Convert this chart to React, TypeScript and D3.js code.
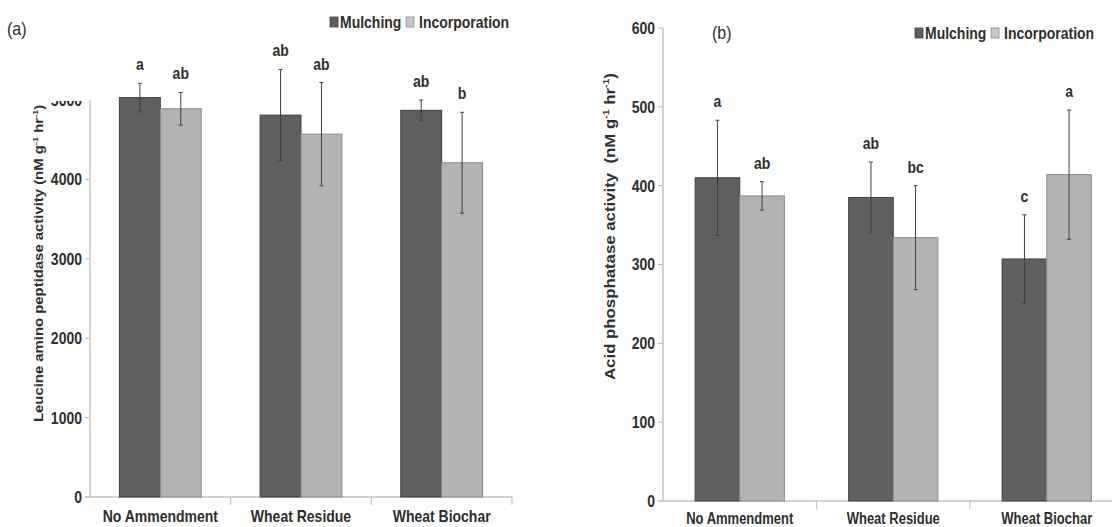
import React from "react";
import * as d3 from "d3";

// Treatments and sub-treatments
const categories = ["No Ammendment", "Wheat Residue", "Wheat Biochar"];
const seriesNames = ["Mulching", "Incorporation"];

// (a) Leucine amino peptidase activity
const leucineMulching = [5030, 4810, 4870];
const leucineMulchingErr = [180, 575, 130];
const leucineIncorporation = [4890, 4570, 4210];
const leucineIncorporationErr = [205, 650, 635];
const leucineMulchingLetters = ["a", "ab", "ab"];
const leucineIncorporationLetters = ["ab", "ab", "b"];
const leucineTicks = [0, 1000, 2000, 3000, 4000, 5000];

// (b) Acid phosphatase activity
const acidMulching = [410, 385, 307];
const acidMulchingErr = [73, 45, 56];
const acidIncorporation = [387, 334, 414];
const acidIncorporationErr = [18, 66, 82];
const acidMulchingLetters = ["a", "ab", "c"];
const acidIncorporationLetters = ["ab", "bc", "a"];
const acidTicks = [0, 100, 200, 300, 400, 500, 600];

const FONT = "'Liberation Sans', Arial, Helvetica, sans-serif";
const TEXT = "#2e2e2e";
const SY = 1.2; // type is drawn slightly tall
const COLORS = { Mulching: "#5f5f5f", Incorporation: "#b3b3b3" };
const OUTLINE = { Mulching: "#3f3f3f", Incorporation: "#8a8a8a" };

type Series = { name: string; values: number[]; err: number[]; letters: string[] };

type PanelCfg = {
  id: string;
  tag: string;
  tagPos: [number, number];
  legendPos: [number, number];
  xRange: [number, number];
  yRange: [number, number];
  yMax: number;
  ticks: number[];
  tickSize: number;
  catSize: number;
  catY: number;
  titleMain: string;
  titleX: number;
  titleBottom: number;
  titleSize: number;
  clipTop: number | null;
  series: Series[];
};

function Label(props: {
  x: number;
  y: number;
  size: number;
  anchor?: string;
  weight?: string | number;
  rotate?: boolean;
  fill?: string;
  children: React.ReactNode;
}) {
  const { x, y, size, anchor = "middle", weight = "bold", rotate = false, fill = TEXT, children } = props;
  return (
    <g transform={`translate(${x},${y}) scale(1,${SY})${rotate ? " rotate(-90)" : ""}`}>
      <text
        textAnchor={anchor}
        dominantBaseline={rotate ? "auto" : "central"}
        fontSize={size}
        fontWeight={weight}
        fontFamily={FONT}
        fill={fill}
        style={{ whiteSpace: "pre" }}
      >
        {children}
      </text>
    </g>
  );
}

function Panel({ cfg }: { cfg: PanelCfg }) {
  const x0 = d3.scaleBand<string>().domain(categories).range(cfg.xRange);
  const x1 = d3
    .scaleBand<string>()
    .domain(seriesNames)
    .range([0, x0.bandwidth()])
    .paddingOuter(0.72);
  const y = d3.scaleLinear().domain([0, cfg.yMax]).range(cfg.yRange);
  const [xa, xb] = cfg.xRange;
  const y0 = y(0);
  const sup = cfg.titleSize * 0.62;
  const lift = cfg.titleSize * 0.42;

  const axisLabels = (
    <g>
      {cfg.ticks.map((t) => (
        <g key={t}>
          <line x1={xa - 5} x2={xa} y1={y(t)} y2={y(t)} stroke="#b5b5b5" strokeWidth={1} />
          <Label x={xa - 8} y={y(t)} size={cfg.tickSize} anchor="end">
            {t}
          </Label>
        </g>
      ))}
      <Label x={cfg.titleX} y={cfg.titleBottom} size={cfg.titleSize} anchor="start" rotate>
        <tspan>{cfg.titleMain}</tspan>
        <tspan fontSize={sup} dy={-lift}>-1</tspan>
        <tspan dy={lift}> hr</tspan>
        <tspan fontSize={sup} dy={-lift}>-1</tspan>
        <tspan dy={lift}>)</tspan>
      </Label>
    </g>
  );

  return (
    <g>
      {cfg.clipTop !== null && (
        <defs>
          <clipPath id={`clip-${cfg.id}`}>
            <rect x={0} y={cfg.clipTop} width={xa - 1} height={600} />
          </clipPath>
        </defs>
      )}
      <g clipPath={cfg.clipTop !== null ? `url(#clip-${cfg.id})` : undefined}>{axisLabels}</g>

      {/* axes */}
      <line x1={xa} x2={xa} y1={y0} y2={y(cfg.yMax)} stroke="#c4c4c4" strokeWidth={1.5} />
      <line x1={xa - 5} x2={xb} y1={y0} y2={y0} stroke="#c4c4c4" strokeWidth={1.5} />
      {categories.map((c, i) =>
        i > 0 ? (
          <line key={c} x1={x0(c)!} x2={x0(c)!} y1={y0} y2={y0 + 8} stroke="#c4c4c4" strokeWidth={1.2} />
        ) : null
      )}
      <line x1={xb} x2={xb} y1={y0} y2={y0 + 8} stroke="#c4c4c4" strokeWidth={1.2} />

      {/* bars, error bars and group letters */}
      {cfg.series.map((s) =>
        categories.map((c, i) => {
          const bx = x0(c)! + x1(s.name)!;
          const bw = x1.bandwidth();
          const cx = bx + bw / 2;
          const v = s.values[i];
          const e = s.err[i];
          const top = y(v + e);
          const bot = y(v - e);
          return (
            <g key={s.name + c}>
              <rect
                x={bx}
                y={y(v)}
                width={bw}
                height={y0 - y(v)}
                fill={COLORS[s.name as keyof typeof COLORS]}
                stroke={OUTLINE[s.name as keyof typeof OUTLINE]}
                strokeWidth={1}
              />
              <line x1={cx} x2={cx} y1={top} y2={bot} stroke="#404040" strokeWidth={1} />
              <line x1={cx - 2} x2={cx + 2} y1={top} y2={top} stroke="#404040" strokeWidth={1} />
              <line x1={cx - 2} x2={cx + 2} y1={bot} y2={bot} stroke="#404040" strokeWidth={1} />
              <Label x={cx} y={top - 19} size={14}>
                {s.letters[i]}
              </Label>
            </g>
          );
        })
      )}

      {/* category labels */}
      {categories.map((c) => (
        <Label key={c} x={x0(c)! + x0.bandwidth() / 2} y={cfg.catY} size={cfg.catSize}>
          {c}
        </Label>
      ))}

      {/* panel tag */}
      <Label x={cfg.tagPos[0]} y={cfg.tagPos[1]} size={16} anchor="start" weight="normal">
        {cfg.tag}
      </Label>

      {/* legend */}
      <g>
        <rect x={cfg.legendPos[0]} y={cfg.legendPos[1] - 5} width={8} height={10} fill={COLORS.Mulching} stroke={OUTLINE.Mulching} strokeWidth={0.8} />
        <Label x={cfg.legendPos[0] + 10} y={cfg.legendPos[1]} size={14} anchor="start">
          {seriesNames[0]}
        </Label>
        <rect x={cfg.legendPos[0] + 76} y={cfg.legendPos[1] - 5} width={8} height={10} fill="#c8c8c8" stroke="#8a8a8a" strokeWidth={0.8} />
        <Label x={cfg.legendPos[0] + 89} y={cfg.legendPos[1]} size={14} anchor="start">
          {seriesNames[1]}
        </Label>
      </g>
    </g>
  );
}

const panelA: PanelCfg = {
  id: "a",
  tag: "(a)",
  tagPos: [7, 28],
  legendPos: [330, 22],
  xRange: [90, 512],
  yRange: [497, 100],
  yMax: 5000,
  ticks: leucineTicks,
  tickSize: 14,
  catSize: 14,
  catY: 516,
  titleMain: "Leucine amino peptidase activity (nM g",
  titleX: 43,
  titleBottom: 422,
  titleSize: 12.4,
  clipTop: 101,
  series: [
    { name: "Mulching", values: leucineMulching, err: leucineMulchingErr, letters: leucineMulchingLetters },
    { name: "Incorporation", values: leucineIncorporation, err: leucineIncorporationErr, letters: leucineIncorporationLetters },
  ],
};

const panelB: PanelCfg = {
  id: "b",
  tag: "(b)",
  tagPos: [712, 32],
  legendPos: [915, 33],
  xRange: [663, 1123.5],
  yRange: [501, 28],
  yMax: 600,
  ticks: acidTicks,
  tickSize: 14,
  catSize: 13,
  catY: 518.5,
  titleMain: "Acid phosphatase activity  (nM g",
  titleX: 615,
  titleBottom: 380,
  titleSize: 14,
  clipTop: null,
  series: [
    { name: "Mulching", values: acidMulching, err: acidMulchingErr, letters: acidMulchingLetters },
    { name: "Incorporation", values: acidIncorporation, err: acidIncorporationErr, letters: acidIncorporationLetters },
  ],
};

export default function App() {
  return (
    <svg
      width={1112}
      height={527}
      viewBox="0 0 1112 527"
      style={{ position: "absolute", left: 0, top: 0, background: "#ffffff" }}
    >
      <rect width={1112} height={527} fill="#ffffff" />
      <Panel cfg={panelA} />
      <Panel cfg={panelB} />
    </svg>
  );
}
